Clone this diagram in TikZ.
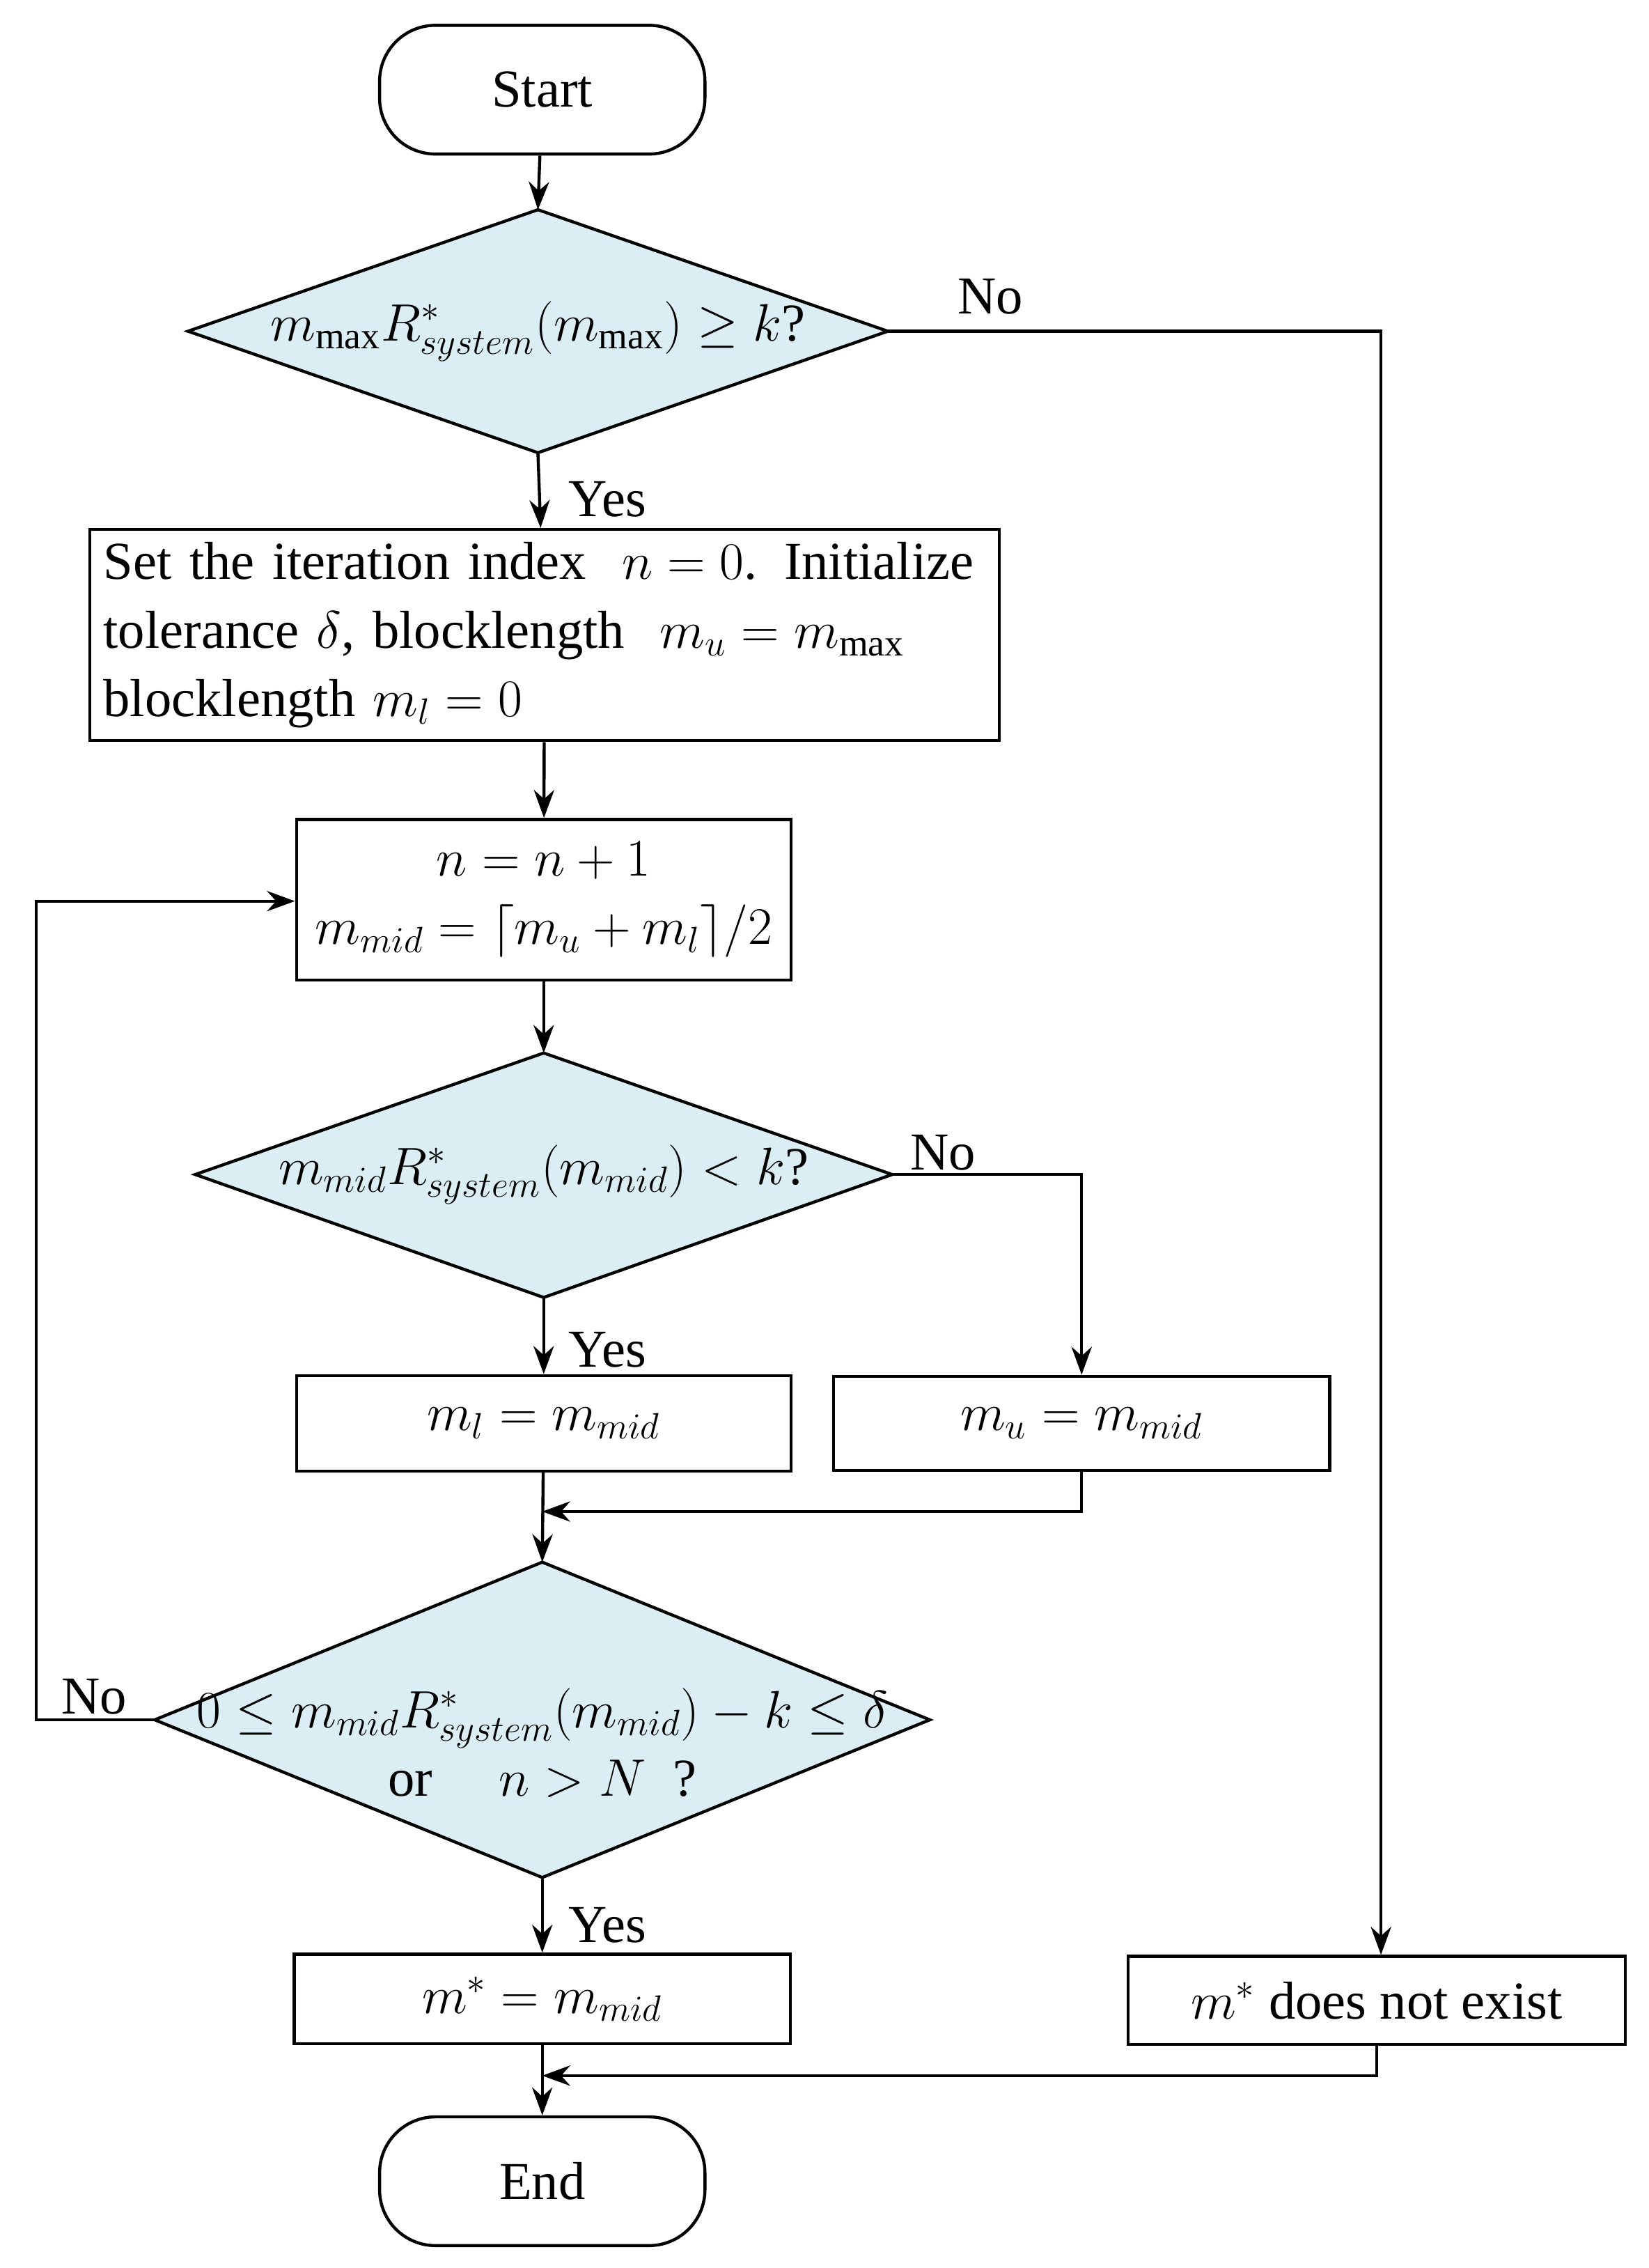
\documentclass[tikz,border=0pt]{standalone}
\usepackage{fontspec}
\setmainfont{Liberation Serif}
\usetikzlibrary{shapes.geometric,arrows.meta}
\definecolor{dfill}{RGB}{218,238,243}
\begin{document}
\begin{tikzpicture}[x=0.02cm,y=-0.02cm,
  every node/.style={font=\fontsize{21}{27}\selectfont},
  arr/.style={line width=1.2pt,-{Stealth[length=11pt,width=8pt]}},
  box/.style={draw,line width=1.2pt,minimum height=#1*0.02cm,inner sep=0pt},
  term/.style={draw,line width=1.2pt,rounded corners=22pt,minimum width=225*0.02cm,minimum height=89*0.02cm},
  dpath/.style={draw,line width=1.2pt,fill=dfill}]
\useasboundingbox (0,0) rectangle (1140,1568);
\node[term] (start) at (375,62) {Start};
% diamond 1
\coordinate (d1t) at (372,145); \coordinate (d1b) at (372,313);
\coordinate (d1l) at (130,229); \coordinate (d1r) at (614,229);
\path[dpath] (d1t) -- (d1r) -- (d1b) -- (d1l) -- cycle;
\node (d1) at (372,229) {$m_{\max}R^*_{system}(m_{\max})\geq k$?};
\node[box=146,minimum width=629*0.02cm,align=left,anchor=north west,text width=610*0.02cm] (b1) at (61,365) {Set the iteration index \ $n=0$. Initialize\\tolerance $\delta$, blocklength \ $m_u=m_{\max}$\\blocklength $m_l=0$};
\node[box=111,minimum width=342*0.02cm,align=center] (b2) at (376,622) {$n=n+1$\\$m_{mid}=\lceil m_u+m_l\rceil/2$};
% diamond 2
\coordinate (d2t) at (376,728); \coordinate (d2b) at (376,897);
\coordinate (d2l) at (135,812); \coordinate (d2r) at (617,812);
\path[dpath] (d2t) -- (d2r) -- (d2b) -- (d2l) -- cycle;
\node (d2) at (376,812) {$m_{mid}R^*_{system}(m_{mid})<k$?};
\node[box=66,minimum width=342*0.02cm] (b3) at (376,984) {$m_l=m_{mid}$};
\node[box=65,minimum width=343*0.02cm] (b4) at (748,984) {$m_u=m_{mid}$};
% diamond 3
\coordinate (d3t) at (375,1080); \coordinate (d3b) at (375,1298);
\coordinate (d3l) at (107,1189); \coordinate (d3r) at (643,1189);
\path[dpath] (d3t) -- (d3r) -- (d3b) -- (d3l) -- cycle;
\node[align=center] (d3) at (375,1205) {$0\leq m_{mid}R^*_{system}(m_{mid})-k\leq\delta$\\or \quad $n>N$ \ ?};
\node[box=62,minimum width=343*0.02cm] (b5) at (375,1382) {$m^*=m_{mid}$};
\node[box=61,minimum width=344*0.02cm] (b6) at (952,1383) {$m^*$ does not exist};
\node[term] (end) at (375,1508) {End};
\coordinate (c1) at (955,229);
\coordinate (c2) at (748,812);
\coordinate (c3) at (375,1045);
\coordinate (c4) at (748,1045);
\coordinate (c5) at (25,1189);
\coordinate (c6) at (25,623);
\coordinate (c7) at (375,1435);
\coordinate (c8) at (952,1435);
\draw[arr] (start) -- (d1t);
\draw[arr] (d1b) -- (b1);
\node at (420,345) {Yes};
\draw[arr] (b1) -- (b2);
\draw[arr] (b2) -- (d2t);
\draw[arr] (d2b) -- (b3);
\node at (420,933) {Yes};
\draw[arr] (d3b) -- (b5);
\node at (420,1331) {Yes};
\draw[arr] (b3) -- (d3t);
\draw[arr] (b5) -- (end);
\draw[arr] (d1r) -- (c1) -- (c1 |- b6.north);
\node at (685,205) {No};
\draw[arr] (d2r) -- (c2) -- (b4.north);
\node at (652,797) {No};
\draw[arr] (b4.south) -- (c4) -- (c3);
\draw[arr] (d3l) -- (c5) -- (c6) -- (b2.west |- c6);
\node at (65,1173) {No};
\draw[arr] (b6.south) -- (c8) -- (c7);
\end{tikzpicture}
\end{document}
